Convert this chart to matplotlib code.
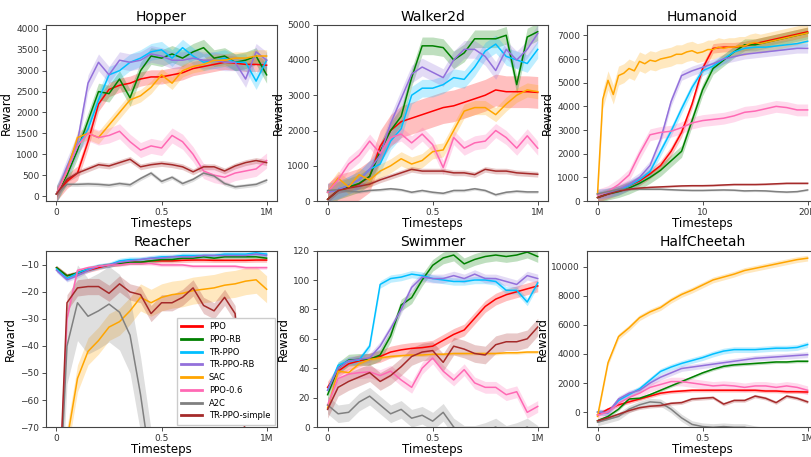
import numpy as np
import matplotlib
matplotlib.use('Agg')
import matplotlib.pyplot as plt

# series names and colours
names = ['PPO', 'PPO-RB', 'TR-PPO', 'TR-PPO-RB', 'SAC', 'PPO-0.6', 'A2C', 'TR-PPO-simple']
colors = ['red', 'green', 'deepskyblue', 'mediumpurple', 'orange', 'hotpink', 'gray', 'brown']

# Hopper (x: 0..1M, 21 points)
hopper = {
    'PPO': [50, 350, 550, 1300, 2200, 2550, 2650, 2700, 2800, 2850, 2850, 2900, 2950, 3050, 3100, 3150, 3200, 3180, 3150, 3150, 3130],
    'PPO-RB': [50, 500, 1100, 1800, 2500, 2450, 2800, 2350, 3000, 3350, 3300, 3400, 3300, 3450, 3550, 3300, 3350, 3200, 3250, 3350, 2900],
    'TR-PPO': [50, 600, 1200, 1600, 2300, 2900, 3000, 3200, 3300, 3450, 3500, 3300, 3550, 3350, 3200, 3250, 3300, 3200, 3200, 2750, 3250],
    'TR-PPO-RB': [50, 700, 1300, 2700, 3200, 2900, 3250, 3200, 3250, 3400, 3350, 3250, 3250, 3300, 3250, 3250, 3200, 3200, 2800, 3450, 3250],
    'SAC': [50, 600, 1400, 1500, 1400, 1700, 2000, 2300, 2400, 2600, 2900, 2700, 3000, 3100, 3150, 3250, 3250, 3300, 3300, 3350, 3350],
    'PPO-0.6': [50, 600, 1200, 1500, 1400, 1450, 1550, 1300, 1100, 1200, 1150, 1450, 1300, 1000, 600, 500, 450, 550, 600, 650, 850],
    'A2C': [50, 280, 280, 290, 280, 260, 300, 270, 420, 550, 350, 450, 300, 400, 550, 480, 300, 220, 250, 280, 380],
    'TR-PPO-simple': [50, 400, 550, 650, 750, 720, 800, 880, 700, 750, 780, 750, 700, 580, 700, 700, 600, 720, 800, 850, 800],
}
hopper_sd = {'PPO': 170, 'PPO-RB': 200, 'TR-PPO': 200, 'TR-PPO-RB': 200, 'SAC': 150,
             'PPO-0.6': 180, 'A2C': 50, 'TR-PPO-simple': 70}

# Walker2d
walker = {
    'PPO': [50, 300, 380, 480, 700, 1550, 2000, 2250, 2350, 2450, 2550, 2650, 2700, 2800, 2900, 3000, 3150, 3100, 3100, 3100, 3080],
    'PPO-RB': [50, 300, 400, 500, 700, 1400, 2000, 2400, 3500, 4400, 4400, 4350, 4000, 4200, 4600, 4600, 4600, 4700, 3300, 4650, 4800],
    'TR-PPO': [250, 320, 450, 600, 900, 1050, 1700, 2050, 3000, 3200, 3200, 3300, 3500, 3450, 3800, 4250, 4450, 4100, 4000, 3900, 4300],
    'TR-PPO-RB': [250, 320, 450, 600, 900, 1300, 2200, 2900, 3600, 3800, 3650, 3500, 4000, 4300, 4300, 4100, 3700, 4300, 4000, 4300, 4750],
    'SAC': [250, 650, 400, 750, 600, 850, 1000, 1200, 1050, 1150, 1400, 1450, 2000, 2550, 2650, 2650, 2450, 2750, 3000, 3150, 3100],
    'PPO-0.6': [250, 600, 1050, 1300, 1700, 1350, 1800, 1900, 1650, 1900, 1600, 950, 1800, 1500, 1650, 1700, 2000, 1800, 1500, 1850, 1500],
    'A2C': [300, 320, 280, 260, 300, 320, 350, 320, 250, 300, 250, 220, 300, 300, 350, 300, 180, 250, 280, 260, 260],
    'TR-PPO-simple': [50, 300, 370, 420, 480, 600, 700, 800, 900, 850, 850, 850, 800, 800, 750, 900, 850, 850, 800, 780, 760],
}
walker_sd = {'PPO': 450, 'PPO-RB': 250, 'TR-PPO': 250, 'TR-PPO-RB': 250, 'SAC': 200,
             'PPO-0.6': 200, 'A2C': 40, 'TR-PPO-simple': 80}

# Humanoid (x: 0..20M)
humanoid = {
    'PPO': [150, 300, 450, 650, 850, 1150, 1500, 2100, 2900, 4100, 5600, 6450, 6500, 6500, 6550, 6650, 6750, 6850, 6950, 7050, 7150],
    'PPO-RB': [150, 300, 400, 550, 750, 1000, 1300, 1700, 2100, 3400, 4700, 5600, 5950, 6300, 6600, 6600, 6700, 6800, 6900, 7000, 7100],
    'TR-PPO': [300, 350, 450, 650, 900, 1250, 2100, 2950, 3900, 4800, 5500, 5700, 6000, 6300, 6450, 6500, 6500, 6550, 6600, 6650, 6750],
    'TR-PPO-RB': [300, 350, 500, 700, 1000, 1500, 2600, 4200, 5300, 5500, 5650, 5800, 6000, 6100, 6200, 6250, 6300, 6350, 6400, 6450, 6450],
    'SAC': [300, 4300, 5100, 4500, 5300, 5400, 5600, 5500, 5900, 5800, 5950, 5900, 6000, 6050, 6100, 6200, 6200, 6300, 6350, 6250,
            6300, 6400, 6400, 6500, 6450, 6500, 6500, 6550, 6550, 6650, 6700, 6650, 6700, 6750, 6800, 6850, 6900, 6950, 7000, 7050, 7100],
    'PPO-0.6': [250, 400, 700, 1100, 2000, 2800, 2900, 2950, 3100, 3300, 3400, 3450, 3500, 3600, 3750, 3800, 3900, 4000, 3950, 3850, 3850],
    'A2C': [300, 400, 500, 500, 500, 500, 500, 480, 460, 450, 450, 460, 470, 460, 430, 440, 430, 400, 380, 400, 470],
    'TR-PPO-simple': [150, 300, 420, 500, 550, 580, 600, 620, 640, 650, 650, 660, 680, 700, 700, 700, 710, 730, 750, 750, 750],
}
humanoid_sd = {'PPO': 200, 'PPO-RB': 250, 'TR-PPO': 200, 'TR-PPO-RB': 200, 'SAC': 400,
               'PPO-0.6': 250, 'A2C': 40, 'TR-PPO-simple': 40}

# Reacher
reacher = {
    'PPO': [-11, -14, -13, -12, -11, -10, -9.5, -9, -9, -8.5, -8.5, -8.5, -8.3, -8.2, -8.2, -8.3, -8.3, -8.3, -8.3, -8.2, -8.2],
    'PPO-RB': [-11, -14, -13, -11.5, -10.5, -10, -9.5, -9, -9, -8.5, -8, -8, -7.5, -7.5, -7, -7.5, -7, -7, -7, -7, -7.5],
    'TR-PPO': [-11.5, -15, -13, -11.5, -10.5, -10, -8.5, -8, -8, -7.5, -7, -7, -6.5, -6.5, -6.5, -6.5, -6, -6, -6, -5.5, -6],
    'TR-PPO-RB': [-12, -15.5, -14, -12, -10.5, -10, -9, -8.5, -8, -7.5, -7.5, -7, -7, -7, -6.5, -6.5, -6.5, -6.5, -6.5, -6, -6.5],
    'SAC': [-120, -75, -52, -42, -38, -33, -31, -27, -22, -24, -22, -21, -20.5, -19.5, -19, -18.5, -17.5, -17, -16, -15.5, -19],
    'PPO-0.6': [-120, -30, -12, -11, -10.5, -10, -10, -9.5, -9.5, -9.5, -10, -10, -10, -10.5, -10.5, -10.5, -10.5, -10.5, -11, -11, -11],
    'A2C': [-120, -40, -24, -29, -27, -24.5, -27.5, -36, -58, -85, -100, -100, -100, -100, -100, -100, -100, -100, -100, -100, -100],
    'TR-PPO-simple': [-120, -24, -18.5, -18, -18, -20.5, -17, -20, -21, -28, -24, -24, -22, -18.5, -25, -27, -22, -28, -75, -110, -110],
}
reacher_sd = {'PPO': 0.8, 'PPO-RB': 0.8, 'TR-PPO': 1.0, 'TR-PPO-RB': 0.8, 'SAC': 5,
              'PPO-0.6': 0.6, 'A2C': 14, 'TR-PPO-simple': 3}

# Swimmer
swimmer = {
    'PPO': [27, 38, 43, 45, 46.5, 48, 51, 52.5, 53.5, 54, 55, 59, 63, 66, 74, 82, 87, 90, 92, 94, 96],
    'PPO-RB': [22, 40, 45.5, 46, 46, 49, 62, 83, 88, 100, 110, 115, 117, 111, 114, 116, 117, 116, 117, 119, 116],
    'TR-PPO': [25, 42, 45, 45.5, 55, 97, 101, 102, 104, 103, 101, 100, 99, 99, 100, 100, 99, 93, 93, 85, 98],
    'TR-PPO-RB': [25, 40, 45, 46, 47, 55, 67, 80, 95, 102, 101, 101, 103, 101, 104, 101, 101, 99, 97, 103, 101],
    'SAC': [13, 38, 37, 43, 46, 47, 48, 48.5, 49, 49, 49.5, 49.5, 50, 50, 50, 50, 50, 50.5, 50.5, 51, 51],
    'PPO-0.6': [15, 33, 36, 37, 37.5, 35, 38, 32, 27, 40, 47, 38, 32, 39, 30, 27, 27, 22, 24, 10, 14],
    'A2C': [15, 9, 10, 17, 21, 15, 9, 12, 6, 8, 4, 10, 0, -5, -5, -3, 0, -5, -3, 0, -5],
    'TR-PPO-simple': [12, 27, 31, 34, 37, 31, 35, 41, 48, 51, 52, 44, 55, 53, 50, 49, 56, 58, 58, 60, 68],
}
swimmer_sd = {'PPO': 4, 'PPO-RB': 4, 'TR-PPO': 2.5, 'TR-PPO-RB': 3, 'SAC': 1,
              'PPO-0.6': 4, 'A2C': 6, 'TR-PPO-simple': 6}

# HalfCheetah
cheetah = {
    'PPO': [-200, 200, 500, 700, 900, 1100, 1300, 1400, 1450, 1500, 1500, 1500, 1500, 1500, 1500, 1500, 1450, 1450, 1400, 1400, 1380],
    'PPO-RB': [-600, -300, 200, 900, 950, 1200, 1500, 1800, 2100, 2400, 2700, 2950, 3150, 3250, 3300, 3350, 3400, 3450, 3450, 3500, 3500],
    'TR-PPO': [0, -50, 800, 1200, 1600, 2200, 2800, 3100, 3350, 3550, 3750, 4000, 4200, 4300, 4300, 4300, 4350, 4400, 4400, 4450, 4650],
    'TR-PPO-RB': [0, -50, 900, 1300, 1500, 2000, 2400, 2700, 3000, 3100, 3200, 3300, 3400, 3500, 3600, 3700, 3750, 3800, 3850, 3900, 3950],
    'SAC': [-300, 3400, 5200, 5800, 6500, 6900, 7200, 7700, 8100, 8400, 8750, 9100, 9300, 9500, 9750, 9900, 10050, 10200, 10350, 10500, 10600],
    'PPO-0.6': [-200, 0, 600, 1000, 1300, 1700, 1900, 2100, 2100, 2000, 1900, 1800, 1850, 1800, 1700, 1800, 1800, 1700, 1800, 1700, 1500],
    'A2C': [-700, -500, -300, 200, 500, 700, 650, 200, -400, -850, -1000, -1050, -1000, -1050, -1050, -1200, -1300, -1300, -1300, -1300, -1300],
    'TR-PPO-simple': [-600, -400, -150, 100, 300, 400, 450, 600, 650, 900, 950, 1000, 550, 800, 800, 1100, 950, 650, 1100, 950, 700],
}
cheetah_sd = {'PPO': 120, 'PPO-RB': 100, 'TR-PPO': 200, 'TR-PPO-RB': 200, 'SAC': 200,
              'PPO-0.6': 300, 'A2C': 250, 'TR-PPO-simple': 120}

panels = [
    ('Hopper', hopper, hopper_sd, 1, (-120, 4100), np.arange(0, 4001, 500), ['0', '0.5', '1M']),
    ('Walker2d', walker, walker_sd, 1, (0, 5000), np.arange(0, 5001, 1000), ['0', '0.5', '1M']),
    ('Humanoid', humanoid, humanoid_sd, 20, (0, 7450), np.arange(0, 7001, 1000), ['0', '10', '20M']),
    ('Reacher', reacher, reacher_sd, 1, (-70, -4.7), np.arange(-70, -9, 10), ['0', '0.5', '1M']),
    ('Swimmer', swimmer, swimmer_sd, 1, (0, 120), np.arange(0, 121, 20), ['0', '0.5', '1M']),
    ('HalfCheetah', cheetah, cheetah_sd, 1, (-1030, 11120), np.arange(0, 10001, 2000), ['0', '0.5', '1M']),
]

fig = plt.figure(figsize=(8.11, 4.57), dpi=100)
lefts = [0.0567, 0.391, 0.7238]
bottoms = [0.560, 0.0656]
w, h = 0.285, 0.386

for i, (title, data, sd, xmax, ylim, yticks, xlabels) in enumerate(panels):
    ax = fig.add_axes([lefts[i % 3], bottoms[i // 3], w, h])
    for name, c in zip(names, colors):
        y = np.array(data[name], dtype=float)
        x = np.linspace(0, xmax, len(y))
        ax.fill_between(x, y - sd[name], y + sd[name], color=c, alpha=0.25, lw=0)
        ax.plot(x, y, color=c, lw=1.1, label=name)
    ax.set_xlim(-0.05 * xmax, 1.05 * xmax)
    ax.set_ylim(*ylim)
    ax.set_yticks(yticks)
    ax.set_xticks([0, xmax / 2, xmax])
    ax.set_xticklabels(xlabels)
    ax.set_title(title, fontsize=10, pad=3)
    ax.set_xlabel('Timesteps', fontsize=8.5, labelpad=0)
    ax.set_ylabel('Reward', fontsize=8.5, labelpad=2)
    ax.tick_params(labelsize=6.5, length=3, width=0.6, colors='#333333', pad=2)
    for s in ax.spines.values():
        s.set_color('#444444')
        s.set_linewidth(0.8)
    if title == 'Reacher':
        leg = ax.legend(loc='lower right', fontsize=6, handlelength=2.5, labelspacing=0.45,
                        borderpad=0.5, borderaxespad=0.3, framealpha=1, edgecolor='#cccccc',
                        fancybox=False)
        for line in leg.get_lines():
            line.set_linewidth(2)

fig.savefig('out.png', dpi=100)
